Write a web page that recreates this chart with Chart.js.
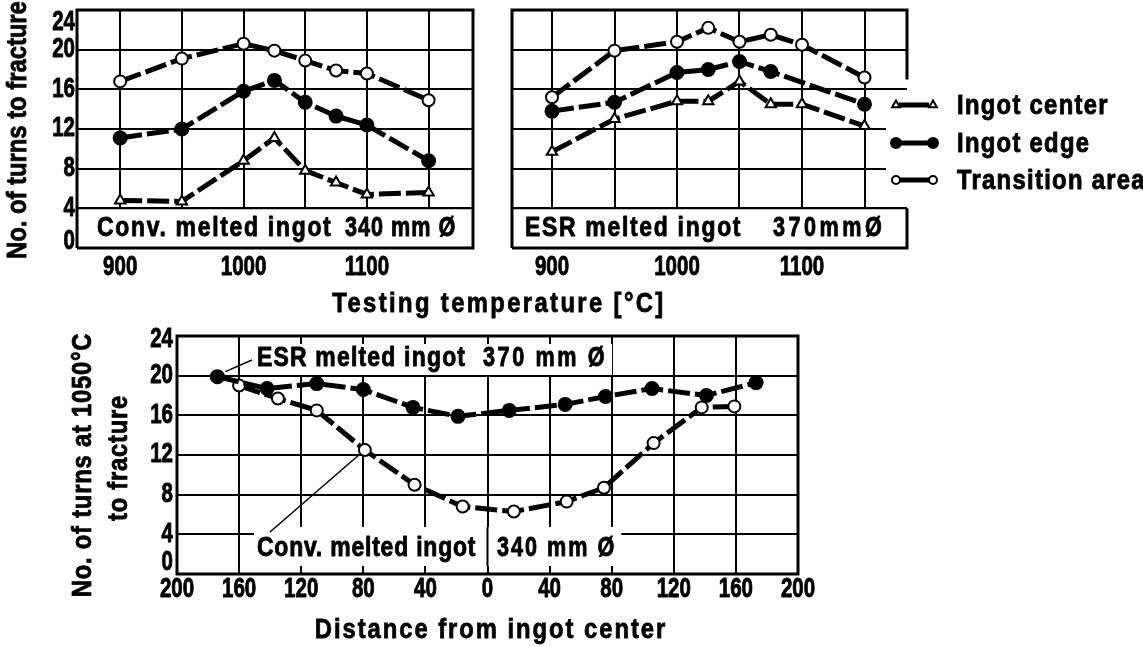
<!DOCTYPE html>
<html>
<head>
<meta charset="utf-8">
<script src="https://cdn.jsdelivr.net/npm/chart.js@4.4.1/dist/chart.umd.min.js"></script>
<style>
  html, body { margin: 0; padding: 0; background: #fff; }
  #wrap { position: relative; width: 1143px; height: 647px; overflow: hidden; background: #fff; }
  canvas { position: absolute; }
  /* narrow bold face: Liberation Sans squeezed horizontally */
  .ttl { position: absolute; font-family: 'Liberation Sans', Arial, sans-serif;
         font-weight: bold; font-size: 28px; line-height: 1; color: #000; white-space: nowrap;
         -webkit-text-stroke: 0.8px #000;
         transform: translate(-50%, -50%) scaleX(0.85); }
  .ttl.v { transform: translate(-50%, -50%) rotate(-90deg) scaleX(0.85); }
</style>
</head>
<body>
<div id="wrap">
  <canvas id="convChart" width="495" height="285" style="left:0;top:0"></canvas>
  <canvas id="esrChart" width="648" height="285" style="left:495px;top:0"></canvas>
  <canvas id="distChart" width="830" height="347" style="left:0;top:300px"></canvas>

  <div class="ttl v" style="left:17px;top:130px">No. of turns to fracture</div>
  <div class="ttl" style="left:499px;top:303px;letter-spacing:2.8px">Testing temperature [°C]</div>
  <div class="ttl v" style="left:82px;top:465px;letter-spacing:0.9px">No. of turns at 1050°C</div>
  <div class="ttl v" style="left:118px;top:458px;letter-spacing:0.9px">to fracture</div>
  <div class="ttl" style="left:491px;top:629px;letter-spacing:2.3px">Distance from ingot center</div>
</div>

<script>
/* ---- data ---- */
// testing temperature (°C) of each sample
const TEMPS = [900, 950, 1000, 1025, 1050, 1075, 1100, 1150];
const TEMPS_ESR_EDGE = [900, 950, 1000, 1025, 1050, 1075, 1150];

// conventionally melted ingot, 340 mm
const CONV_CENTER = [4.8, 4.7, 8.8, 11.1, 7.8, 6.6, 5.4, 5.6];
const CONV_EDGE   = [11.1, 12.0, 15.8, 16.9, 14.7, 13.3, 12.4, 8.8];
const CONV_TRANS  = [16.8, 19.1, 20.6, 19.9, 18.9, 17.9, 17.6, 14.9];

// ESR melted ingot, 370 mm
const ESR_CENTER = [9.7, 13.0, 14.8, 14.8, 16.8, 14.5, 14.5, 12.3];
const ESR_EDGE   = [13.8, 14.7, 17.7, 18.0, 18.8, 17.8, 14.5];
const ESR_TRANS  = [15.2, 19.9, 20.8, 22.2, 20.8, 21.5, 20.5, 17.2];

// turns at 1050 °C across the ingot (distance from center, mm; left side negative)
const DIST_ESR   = [-174, -142, -110, -80, -48, -19, 14, 50, 76, 106, 141, 173];
const TURNS_ESR  = [19.9, 18.7, 19.2, 18.6, 16.8, 15.9, 16.5, 17.1, 17.9, 18.7, 18.0, 19.3];
const DIST_CONV  = [-160, -135, -110, -79, -47, -16, 17, 51, 75, 107, 138, 159];
const TURNS_CONV = [19.0, 17.7, 16.5, 12.5, 9.0, 6.8, 6.3, 7.3, 8.7, 13.2, 16.8, 16.9];

// axes
const TEMP_GRID   = [900, 950, 1000, 1050, 1100, 1150];
const TEMP_LABELS = [900, 1000, 1100];
const TURN_TICKS  = [0, 4, 8, 12, 16, 20, 24];
const DIST_TICKS  = [-200, -160, -120, -80, -40, 0, 40, 80, 120, 160, 200];

const LEGEND_LABELS = ['Ingot center', 'Ingot edge', 'Transition area'];
const LEGEND_KINDS  = ['center', 'edge', 'trans'];

/* ---- styling ---- */
const FACE = "'Liberation Sans', Arial, sans-serif";
Chart.defaults.font.family = FACE;
Chart.defaults.color = '#000';

// draws heavy bold text squeezed to a narrow face (sx = horizontal scale, sp = letter spacing px)
function narrowText(ctx, str, x, y, o) {
  ctx.save();
  ctx.translate(x, y);
  if (o.rot) ctx.rotate(o.rot);
  ctx.scale(o.sx, 1);
  ctx.font = 'bold ' + o.size + 'px ' + FACE;
  ctx.letterSpacing = ((o.sp || 0) / o.sx) + 'px';
  ctx.textAlign = o.align || 'left';
  ctx.textBaseline = 'middle';
  ctx.fillStyle = '#000';
  ctx.strokeStyle = '#000';
  ctx.lineWidth = 0.9;
  ctx.lineJoin = 'round';
  ctx.fillText(str, 0, 0);
  ctx.strokeText(str, 0, 0);
  const w = ctx.measureText(str).width * o.sx;
  ctx.restore();
  return w;
}

const MARK = {
  center: { pointStyle: 'triangle', pointRadius: 6,   pointBackgroundColor: '#fff' },
  edge:   { pointStyle: 'circle',   pointRadius: 6.5, pointBackgroundColor: '#000' },
  trans:  { pointStyle: 'circle',   pointRadius: 6,   pointBackgroundColor: '#fff' }
};

function series(xs, ys, kind) {
  return Object.assign({
    data: xs.map((x, i) => ({ x: x, y: ys[i] })),
    borderColor: '#000',
    borderWidth: 5,
    borderDash: [22, 5],
    pointBorderColor: '#000',
    pointBorderWidth: 2,
    tension: 0,
    clip: false
  }, MARK[kind]);
}

function gridOpts() {
  return { color: '#000', lineWidth: 2, drawTicks: false };
}

function turnsAxis(width) {
  return {
    min: 0, max: 24,
    afterBuildTicks: s => { s.ticks = TURN_TICKS.map(v => ({ value: v })); },
    ticks: { display: false },
    grid: gridOpts(),
    border: { display: false },
    afterFit: s => { s.width = width; s.paddingTop = 0; s.paddingBottom = 0; }
  };
}

function linearX(min, max, values, height) {
  return {
    type: 'linear', min: min, max: max,
    afterBuildTicks: s => { s.ticks = values.map(v => ({ value: v })); },
    ticks: { display: false },
    grid: gridOpts(),
    border: { display: false },
    afterFit: s => { s.height = height; s.paddingLeft = 0; s.paddingRight = 0; }
  };
}

/* tick labels in the narrow face, placed from the chart's own scales */
const tickText = {
  id: 'tickText',
  afterDraw(chart, args, o) {
    const { ctx, chartArea: a, scales: { x, y } } = chart;
    x.ticks.forEach(t => {
      const s = o.xLabel(t.value);
      if (s) narrowText(ctx, s, x.getPixelForValue(t.value), a.bottom + o.xGap, { size: 27, sx: 0.76, align: 'center' });
    });
    if (!o.showY) return;
    y.ticks.forEach((t, i) => {
      let py = y.getPixelForValue(t.value);
      if (i === 0) py += o.yBot;
      if (i === y.ticks.length - 1) py += o.yTop;
      narrowText(ctx, String(t.value), a.left - o.yGap, py, { size: 27, sx: 0.76, align: 'right' });
    });
  }
};

/* white label strip along the bottom of the temperature plots, plus frame */
const stripPlugin = {
  id: 'strip',
  beforeDatasetsDraw(chart, args, o) {
    const { ctx, chartArea: a, scales: { y } } = chart;
    const yTop = y.getPixelForValue(4);
    ctx.save();
    ctx.fillStyle = '#fff';
    ctx.fillRect(a.left, yTop, a.right - a.left, a.bottom - yTop);
    ctx.strokeStyle = '#000';
    ctx.lineWidth = 2;
    ctx.beginPath(); ctx.moveTo(a.left, yTop); ctx.lineTo(a.right, yTop); ctx.stroke();

    const ty = (yTop + a.bottom) / 2 + 0.5;
    narrowText(ctx, o.text, a.left + o.textX, ty, { size: 27, sx: 0.85, sp: 1.7 });
    narrowText(ctx, o.size, a.left + o.sizeX, ty, { size: 27, sx: 0.8, sp: o.sizeSp });

    // frame (right side may be broken for the legend)
    ctx.strokeStyle = '#000';
    ctx.lineWidth = 3;
    ctx.beginPath();
    ctx.moveTo(a.left, a.bottom); ctx.lineTo(a.left, a.top); ctx.lineTo(a.right, a.top);
    if (o.breakFrom != null) {
      ctx.lineTo(a.right, y.getPixelForValue(o.breakFrom));
      ctx.moveTo(a.right, yTop);
    }
    ctx.lineTo(a.right, a.bottom); ctx.lineTo(a.left, a.bottom);
    ctx.stroke();
    ctx.restore();
  }
};

/* legend to the right of the ESR plot */
const sideLegend = {
  id: 'sideLegend',
  afterDraw(chart) {
    const { ctx, chartArea: a, scales: { y } } = chart;
    const h = Chart.helpers;
    ctx.save();
    ctx.fillStyle = '#fff';
    const m0 = y.getPixelForValue(15.4), m1 = y.getPixelForValue(5.6);
    ctx.fillRect(a.right - 21, m0, 60, m1 - m0);

    const rows = [95, 133, 170];
    const small = { center: 4.5, edge: 5, trans: 4 };
    LEGEND_LABELS.forEach((label, i) => {
      const kind = LEGEND_KINDS[i];
      const ry = a.top + rows[i];
      ctx.strokeStyle = '#000';
      ctx.lineWidth = 5;
      ctx.beginPath(); ctx.moveTo(a.right - 8, ry); ctx.lineTo(a.right + 22, ry); ctx.stroke();
      ctx.lineWidth = 2;
      const p = { pointStyle: MARK[kind].pointStyle, radius: small[kind], rotation: 0, borderWidth: 2 };
      ctx.fillStyle = MARK[kind].pointBackgroundColor;
      h.drawPoint(ctx, p, a.right - 11, ry);
      ctx.fillStyle = MARK[kind].pointBackgroundColor;
      h.drawPoint(ctx, p, a.right + 26, ry);
      narrowText(ctx, label, a.right + 50, ry + 1, { size: 28, sx: 0.85, sp: 1.3 });
    });
    ctx.restore();
  }
};

function tempChart(id, sets, xmin, xmax, yWidth, showY, padRight, strip) {
  return new Chart(document.getElementById(id), {
    type: 'line',
    data: { datasets: sets },
    options: {
      responsive: false,
      animation: false,
      events: [],
      layout: { padding: { top: 10, right: padRight, left: 0, bottom: 0 } },
      plugins: {
        legend: { display: false }, tooltip: { enabled: false }, strip: strip,
        tickText: { xLabel: v => TEMP_LABELS.includes(v) ? String(v) : '', xGap: 20,
                    showY: showY, yGap: 2, yTop: 13, yBot: -6 }
      },
      scales: {
        x: linearX(xmin, xmax, TEMP_GRID, 37),
        y: turnsAxis(yWidth)
      }
    },
    plugins: id === 'esrChart' ? [stripPlugin, tickText, sideLegend] : [stripPlugin, tickText]
  });
}

tempChart('convChart', [
  series(TEMPS, CONV_CENTER, 'center'),
  series(TEMPS, CONV_EDGE, 'edge'),
  series(TEMPS, CONV_TRANS, 'trans')
], 865, 1186, 77, true, 22,
  { text: 'Conv. melted ingot', size: '340 mm Ø', textX: 20, sizeX: 268, sizeSp: 1 });

tempChart('esrChart', [
  series(TEMPS, ESR_CENTER, 'center'),
  series(TEMPS_ESR_EDGE, ESR_EDGE, 'edge'),
  series(TEMPS, ESR_TRANS, 'trans')
], 868, 1184, 17, false, 236,
  { text: 'ESR melted ingot', size: '370mmØ', textX: 13, sizeX: 261, sizeSp: 3.5, breakFrom: 17 });

/* labels inside the distance plot */
const distLabels = {
  id: 'distLabels',
  beforeDatasetsDraw(chart) {
    const { ctx, chartArea: a, scales: { x, y } } = chart;
    ctx.save();

    function label(text, size, tx, sx, ty, boxTop, boxBot, sp1, sp2) {
      // measure first, then blank the grid behind the words
      ctx.save(); ctx.globalAlpha = 0;
      const sw = narrowText(ctx, size, sx, ty, { size: 27, sx: 0.8, sp: sp2 });
      ctx.restore();
      ctx.fillStyle = '#fff';
      ctx.fillRect(tx - 3, boxTop, sx + sw + 8 - tx, boxBot - boxTop);
      narrowText(ctx, text, tx, ty, { size: 27, sx: 0.85, sp: sp1 });
      narrowText(ctx, size, sx, ty, { size: 27, sx: 0.8, sp: sp2 });
    }

    // ESR label at the top
    const eTx = a.left + 80, eTy = a.top + 23;
    label('ESR melted ingot', '370 mm Ø', eTx, a.left + 306, eTy, eTy - 15, eTy + 16, 1.2, 2.6);

    // Conv. label at the bottom
    const cTx = a.left + 80, cTy = a.bottom - 25;
    const cTop = a.bottom - 47, cBot = a.bottom - 8;
    label('Conv. melted ingot', '340 mm Ø', cTx, a.left + 320, cTy, cTop, cBot, 0.8, 2);

    ctx.strokeStyle = '#000';
    ctx.lineWidth = 2;
    const x0 = x.getPixelForValue(0);
    ctx.beginPath(); ctx.moveTo(x0, cTop); ctx.lineTo(x0, cBot); ctx.stroke();

    // leader lines
    ctx.lineWidth = 1.5;
    const pe = { x: x.getPixelForValue(DIST_ESR[0]), y: y.getPixelForValue(TURNS_ESR[0]) };
    ctx.beginPath(); ctx.moveTo(pe.x + 8, pe.y - 5); ctx.lineTo(eTx - 5, eTy + 1); ctx.stroke();
    const pc = { x: x.getPixelForValue(DIST_CONV[3]), y: y.getPixelForValue(TURNS_CONV[3]) };
    ctx.beginPath(); ctx.moveTo(cTx + 13, cTop + 5); ctx.lineTo(pc.x - 6, pc.y + 5); ctx.stroke();

    // frame
    ctx.lineWidth = 3;
    ctx.strokeRect(a.left, a.top, a.right - a.left, a.bottom - a.top);
    ctx.restore();
  }
};

new Chart(document.getElementById('distChart'), {
  type: 'line',
  data: {
    datasets: [
      series(DIST_ESR, TURNS_ESR, 'edge'),
      series(DIST_CONV, TURNS_CONV, 'trans')
    ]
  },
  options: {
    responsive: false,
    animation: false,
    events: [],
    layout: { padding: { top: 36, right: 32, left: 0, bottom: 0 } },
    plugins: {
      legend: { display: false }, tooltip: { enabled: false },
      tickText: { xLabel: v => String(Math.abs(v)), xGap: 16, showY: true, yGap: 4, yTop: 4, yBot: -11 }
    },
    scales: {
      x: linearX(-200, 200, DIST_TICKS, 73),
      y: turnsAxis(177)
    }
  },
  plugins: [distLabels, tickText]
});
</script>
</body>
</html>
